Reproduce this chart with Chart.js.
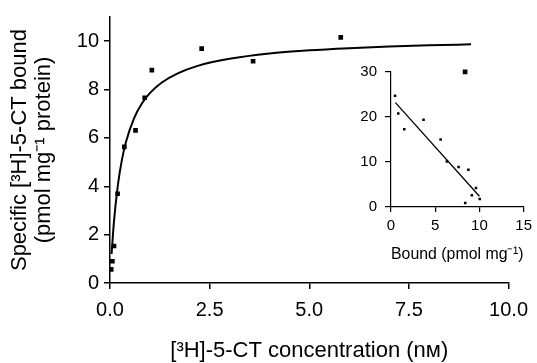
<!DOCTYPE html>
<html>
<head>
<meta charset="utf-8">
<script src="https://cdn.jsdelivr.net/npm/chart.js@4"></script>
<style>
  body { margin: 0; background: #fff; }
  #wrap { position: relative; width: 537px; height: 363px; }
  #inset { position: absolute; left: 340px; top: 55px; }
</style>
</head>
<body>
<div id="wrap">
  <canvas id="myChart" width="537" height="363"></canvas>
  <canvas id="inset" width="197" height="220"></canvas>
</div>
<script>
// saturation data: [3H]-5-CT concentration (nM) vs specific binding
var concX = [0.03, 0.06, 0.1, 0.19, 0.36, 0.64, 0.87, 1.05, 2.3, 3.59, 5.79, 8.91];
var boundY = [0.56, 0.9, 1.53, 3.69, 5.63, 6.31, 7.66, 8.8, 9.69, 9.17, 10.16, 8.73];
// fitted curve
var curveX = [0.04, 0.1, 0.2, 0.3, 0.4, 0.6, 0.8, 1.0, 1.3, 1.7, 2.2, 3.0, 4.0, 5.0, 6.0, 7.0, 8.0, 9.06];
var curveY = [1.2, 2.55, 4.08, 5.1, 5.83, 6.8, 7.42, 7.85, 8.29, 8.67, 8.98, 9.27, 9.49, 9.62, 9.71, 9.78, 9.83, 9.87];
var mainXTicks = [0, 2.5, 5, 7.5, 10];
var mainYTicks = [0, 2, 4, 6, 8, 10];

// Scatchard inset: bound vs bound/free
var scatX = [0.46, 0.82, 1.5, 3.68, 5.61, 6.32, 7.64, 8.75, 9.61, 9.14, 8.39, 10.03];
var scatY = [24.7, 20.8, 17.3, 19.4, 15.0, 10.1, 8.9, 8.3, 4.2, 2.6, 0.9, 1.8];
var lineX = [0.5, 10];
var lineY = [23.2, 2.4];
var insetXTicks = [0, 5, 10, 15];
var insetYTicks = [0, 10, 20, 30];

Chart.defaults.color = '#000';
Chart.defaults.font.family = '"Liberation Sans", Arial, sans-serif';

function pts(xs, ys) {
  return xs.map(function (x, i) { return { x: x, y: ys[i] }; });
}
function fixTicks(list) {
  return function (axis) { axis.ticks = list.map(function (v) { return { value: v }; }); };
}

var ctx = document.getElementById('myChart').getContext('2d');
window.myChart = new Chart(ctx, {
  type: 'scatter',
  data: {
    datasets: [{
      label: 'fit',
      type: 'line',
      data: pts(curveX, curveY),
      borderColor: '#000',
      borderWidth: 2,
      pointRadius: 0,
      cubicInterpolationMode: 'monotone',
      fill: false
    }, {
      label: 'data',
      data: pts(concX, boundY),
      pointStyle: 'rect',
      pointRadius: 3.3,
      backgroundColor: '#000',
      borderColor: '#000',
      borderWidth: 0
    }]
  },
  options: {
    responsive: false,
    animation: false,
    devicePixelRatio: 1,
    layout: { padding: { top: 14, right: 21, left: 0, bottom: 0 } },
    plugins: { legend: { display: false }, tooltip: { enabled: false } },
    scales: {
      x: {
        type: 'linear', min: 0, max: 10,
        afterBuildTicks: fixTicks(mainXTicks),
        afterFit: function (s) { s.height = 80; },
        ticks: { font: { size: 20 }, padding: 9, maxRotation: 0, callback: function (v) { return v.toFixed(1); } },
        grid: { drawOnChartArea: false, tickLength: 6, color: '#000', lineWidth: 1.5 },
        border: { color: '#000', width: 1.5 },
        title: { display: true, text: '[³H]-5-CT concentration (nᴍ)', font: { size: 22, lineHeight: 1.1 }, padding: { top: 0, bottom: 0 } }
      },
      y: {
        type: 'linear', min: 0, max: 11,
        afterBuildTicks: fixTicks(mainYTicks),
        afterFit: function (s) { s.width = 110; },
        ticks: { font: { size: 20 }, padding: 5 },
        grid: { drawOnChartArea: false, tickLength: 6, color: '#000', lineWidth: 1.5 },
        border: { color: '#000', width: 1.5 },
        title: { display: true, text: ['Specific [³H]-5-CT bound', '(pmol mg⁻¹ protein)'], font: { size: 22, lineHeight: 1.1 }, padding: { top: 8, bottom: 0 } }
      }
    }
  }
});

var ctx2 = document.getElementById('inset').getContext('2d');
window.insetChart = new Chart(ctx2, {
  type: 'scatter',
  data: {
    datasets: [{
      label: 'regression',
      type: 'line',
      data: pts(lineX, lineY),
      borderColor: '#000',
      borderWidth: 1.3,
      pointRadius: 0,
      fill: false
    }, {
      label: 'scatchard',
      data: pts(scatX, scatY),
      pointStyle: 'rect',
      pointRadius: 1.8,
      backgroundColor: '#000',
      borderColor: '#000',
      borderWidth: 0
    }]
  },
  options: {
    responsive: false,
    animation: false,
    devicePixelRatio: 1,
    layout: { padding: { top: 13, right: 6, left: 0, bottom: 0 } },
    plugins: { legend: { display: false }, tooltip: { enabled: false } },
    scales: {
      x: {
        type: 'linear', min: 0, max: 15,
        afterBuildTicks: fixTicks(insetXTicks),
        afterFit: function (s) { s.height = 68; },
        ticks: { font: { size: 15 }, padding: 5, maxRotation: 0 },
        grid: { drawOnChartArea: false, tickLength: 5, color: '#000', lineWidth: 1.2 },
        border: { color: '#000', width: 1.2 },
        title: { display: true, text: 'Bound (pmol mg⁻¹)', font: { size: 17 }, padding: { top: 0, bottom: 10 } }
      },
      y: {
        type: 'linear', min: 0, max: 30,
        afterBuildTicks: fixTicks(insetYTicks),
        afterFit: function (s) { s.width = 51; },
        ticks: { font: { size: 15 }, padding: 8 },
        grid: { drawOnChartArea: false, tickLength: 6, color: '#000', lineWidth: 1.2 },
        border: { color: '#000', width: 1.2 }
      }
    }
  }
});
</script>
</body>
</html>
